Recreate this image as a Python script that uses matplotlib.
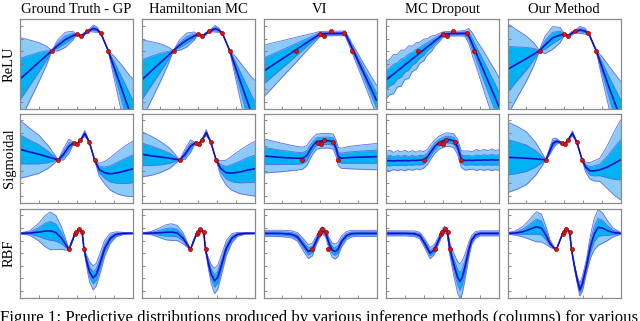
import numpy as np
import matplotlib.pyplot as plt

plt.rcParams['font.family'] = ['Liberation Serif', 'DejaVu Serif']

methods = ["Ground Truth - GP", "Hamiltonian MC", "VI", "MC Dropout", "Our Method"]
activations = ["ReLU", "Sigmoidal", "RBF"]

# training points, one set per row
relu_pts_x = [1.7, 3.0, 3.22, 3.57, 4.3, 4.68]
relu_pts_y = [4.05, 5.33, 5.22, 5.57, 5.4, 4.05]
sig_pts_x = [2.03, 2.87, 3.03, 3.21, 3.68, 3.96]
sig_pts_y = [2.87, 4.24, 4.13, 4.45, 4.29, 2.87]
rbf_pts_x = [2.6, 2.93, 2.98, 3.12, 3.3, 3.4]
rbf_pts_y = [3.3, 4.55, 4.65, 4.92, 4.7, 3.3]

# ---- ReLU row ----
relu_gp_x = [0, 0.5, 1.0, 1.4, 1.7, 2.0, 2.4, 2.8, 3.0, 3.22, 3.4, 3.57, 3.9, 4.1, 4.3, 4.68, 5.0, 5.4, 5.8, 6.0]
relu_gp_mean = [1.78, 2.45, 3.12, 3.64, 4.05, 4.45, 4.9, 5.22, 5.33, 5.22, 5.35, 5.57, 5.8, 5.7, 5.4, 4.05, 2.7, 1.0, -0.7, -1.6]
relu_gp_sd = [1.65, 1.22, 0.78, 0.38, 0.0, 0.22, 0.3, 0.18, 0.0, 0.0, 0.06, 0.0, 0.14, 0.1, 0.0, 0.0, 0.45, 0.95, 1.4, 1.7]

relu_hmc_x = relu_gp_x
relu_hmc_mean = [1.7, 2.4, 3.08, 3.62, 4.05, 4.45, 4.88, 5.2, 5.33, 5.22, 5.36, 5.57, 5.78, 5.68, 5.4, 4.05, 2.68, 0.95, -0.75, -1.65]
relu_hmc_sd = [1.6, 1.18, 0.75, 0.36, 0.0, 0.2, 0.28, 0.16, 0.0, 0.0, 0.06, 0.0, 0.13, 0.09, 0.0, 0.0, 0.44, 0.92, 1.38, 1.68]

relu_vi_x = [0, 0.5, 1.0, 1.5, 2.0, 2.5, 3.0, 3.5, 4.0, 4.34, 4.7, 5.0, 5.5, 6.0]
relu_vi_mean = [2.41, 2.9, 3.39, 3.88, 4.38, 4.87, 5.36, 5.4, 5.41, 5.41, 4.25, 3.3, 1.7, 0.1]
relu_vi_sd = [1.03, 0.88, 0.72, 0.57, 0.41, 0.25, 0.1, 0.09, 0.09, 0.1, 0.18, 0.27, 0.42, 0.6]

grid31 = [0.0, 0.2, 0.4, 0.6, 0.8, 1.0, 1.2, 1.4, 1.6, 1.8, 2.0, 2.2, 2.4, 2.6, 2.8, 3.0,
          3.2, 3.4, 3.6, 3.8, 4.0, 4.2, 4.4, 4.6, 4.8, 5.0, 5.2, 5.4, 5.6, 5.8, 6.0]

relu_do_x = grid31
relu_do_mean = [1.7, 1.95, 2.17, 2.43, 2.65, 2.91, 3.13, 3.39, 3.61, 3.87, 4.09, 4.35, 4.57, 4.83, 5.05, 5.3,
                5.36, 5.38, 5.4, 5.4, 5.41, 5.41, 5.2, 4.5, 3.8, 3.1, 2.4, 1.7, 1.0, 0.3, -0.4]
relu_do_sd = [0.75, 0.7, 0.78, 0.64, 0.72, 0.58, 0.65, 0.5, 0.53, 0.42, 0.43, 0.32, 0.31, 0.21, 0.17, 0.11,
              0.1, 0.09, 0.1, 0.09, 0.1, 0.12, 0.3, 0.46, 0.54, 0.66, 0.78, 0.88, 0.97, 1.08, 1.15]

relu_our_x = [0, 0.5, 1.0, 1.4, 1.69, 2.0, 2.4, 2.8, 3.02, 3.22, 3.4, 3.58, 3.85, 4.1, 4.32, 4.71, 5.0, 5.4, 5.8, 6.0]
relu_our_mean = [2.55, 2.98, 3.4, 3.76, 4.03, 4.5, 5.05, 5.28, 5.33, 5.22, 5.4, 5.57, 5.68, 5.6, 5.38, 4.03, 2.8, 1.1, -0.5, -1.3]
relu_our_sd = [1.82, 1.35, 0.9, 0.45, 0.02, 0.35, 0.45, 0.3, 0.02, 0.03, 0.08, 0.04, 0.14, 0.12, 0.03, 0.02, 0.4, 0.85, 1.25, 1.45]

# ---- Sigmoidal row ----
sig_gp_x = [0, 0.5, 1.0, 1.5, 2.03, 2.3, 2.6, 2.87, 3.03, 3.21, 3.44, 3.68, 3.96, 4.2, 4.5, 4.8, 5.2, 5.6, 6.0]
sig_gp_mean = [3.71, 3.5, 3.32, 3.1, 2.87, 3.3, 3.95, 4.24, 4.13, 4.45, 4.97, 4.29, 2.87, 2.1, 1.85, 1.76, 1.85, 2.0, 2.16]
sig_gp_sd = [1.15, 0.95, 0.76, 0.45, 0.0, 0.22, 0.28, 0.0, 0.0, 0.0, 0.12, 0.0, 0.0, 0.25, 0.45, 0.65, 0.85, 1.0, 1.1]

sig_hmc_x = sig_gp_x
sig_hmc_mean = [3.32, 3.2, 3.1, 3.0, 2.87, 3.3, 3.95, 4.24, 4.13, 4.45, 5.03, 4.29, 2.87, 2.2, 1.85, 1.82, 1.9, 2.05, 2.16]
sig_hmc_sd = [0.9, 0.78, 0.62, 0.4, 0.0, 0.2, 0.25, 0.0, 0.0, 0.0, 0.12, 0.0, 0.0, 0.3, 0.5, 0.68, 0.85, 0.98, 1.08]

sig_vi_x = [0, 0.5, 1.0, 1.5, 1.85, 2.06, 2.3, 2.47, 2.65, 2.82, 3.1, 3.44, 3.7, 3.85, 3.97, 4.14, 4.5, 5.0, 5.5, 6.0]
sig_vi_mean = [3.18, 3.12, 3.06, 3.02, 3.0, 3.0, 3.2, 3.66, 4.05, 4.32, 4.38, 4.39, 4.32, 3.8, 3.13, 3.0, 3.05, 3.08, 3.1, 3.13]
sig_vi_sd = [0.68, 0.62, 0.56, 0.5, 0.46, 0.44, 0.4, 0.36, 0.32, 0.3, 0.29, 0.29, 0.3, 0.32, 0.36, 0.4, 0.44, 0.47, 0.5, 0.52]

sig_do_x = grid31
sig_do_mean = [2.79, 2.81, 2.78, 2.81, 2.8, 2.82, 2.8, 2.83, 2.82, 2.85, 2.87, 3.1, 3.55, 3.95, 4.22, 4.36,
               4.48, 4.47, 4.38, 3.9, 2.92, 2.82, 2.84, 2.82, 2.86, 2.84, 2.87, 2.85, 2.88, 2.86, 2.87]
sig_do_sd = [0.37, 0.42, 0.34, 0.4, 0.35, 0.41, 0.34, 0.39, 0.33, 0.38, 0.33, 0.3, 0.28, 0.27, 0.26, 0.26,
             0.27, 0.26, 0.28, 0.3, 0.33, 0.38, 0.37, 0.34, 0.42, 0.36, 0.42, 0.37, 0.43, 0.38, 0.41]

sig_our_x = [0, 0.5, 1.0, 1.5, 2.04, 2.25, 2.42, 2.6, 2.87, 3.03, 3.21, 3.45, 3.68, 3.96, 4.15, 4.37, 4.6, 4.9, 5.3, 5.7, 6.0]
sig_our_mean = [3.08, 3.04, 3.0, 2.95, 2.87, 3.6, 4.18, 4.35, 4.24, 4.13, 4.45, 4.97, 4.29, 2.87, 2.3, 2.0, 2.0, 2.08, 2.3, 2.62, 2.87]
sig_our_sd = [1.4, 1.25, 1.05, 0.65, 0.0, 0.15, 0.2, 0.12, 0.0, 0.0, 0.0, 0.1, 0.0, 0.0, 0.2, 0.32, 0.4, 0.46, 0.85, 1.3, 1.58]

# ---- RBF row ----
rbf_gp_x = [0, 0.5, 1.0, 1.3, 1.6, 1.9, 2.2, 2.4, 2.6, 2.75, 2.93, 3.1, 3.3, 3.4, 3.55, 3.7, 3.88, 4.05, 4.25, 4.5, 4.8, 5.1, 5.5, 6.0]
rbf_gp_mean = [4.58, 4.6, 4.68, 4.75, 4.78, 4.65, 4.2, 3.75, 3.3, 3.9, 4.58, 4.9, 4.7, 3.3, 2.3, 1.5, 1.05, 1.3, 2.2, 3.4, 4.2, 4.5, 4.58, 4.58]
rbf_gp_sd = [0.02, 0.08, 0.35, 0.6, 0.75, 0.68, 0.45, 0.25, 0.0, 0.05, 0.0, 0.02, 0.0, 0.0, 0.25, 0.4, 0.48, 0.45, 0.4, 0.32, 0.2, 0.1, 0.04, 0.02]

rbf_hmc_x = rbf_gp_x
rbf_hmc_mean = [4.58, 4.6, 4.63, 4.66, 4.68, 4.6, 4.2, 3.75, 3.3, 3.9, 4.58, 4.9, 4.7, 3.3, 2.2, 1.35, 0.8, 1.1, 2.1, 3.4, 4.2, 4.5, 4.58, 4.58]
rbf_hmc_sd = [0.02, 0.06, 0.2, 0.3, 0.33, 0.3, 0.22, 0.12, 0.0, 0.04, 0.0, 0.02, 0.0, 0.0, 0.22, 0.38, 0.5, 0.48, 0.4, 0.3, 0.18, 0.08, 0.03, 0.02]

rbf_vi_x = [0, 0.5, 1.0, 1.5, 1.8, 2.1, 2.38, 2.6, 2.8, 3.0, 3.12, 3.3, 3.5, 3.65, 3.8, 3.95, 4.14, 4.4, 4.67, 5.0, 5.5, 6.0]
rbf_vi_mean = [4.58, 4.58, 4.57, 4.5, 4.3, 3.7, 3.13, 3.3, 4.0, 4.6, 4.82, 4.6, 3.7, 3.25, 3.13, 3.3, 3.92, 4.4, 4.56, 4.58, 4.58, 4.58]
rbf_vi_sd = [0.12, 0.12, 0.13, 0.14, 0.17, 0.24, 0.28, 0.25, 0.18, 0.15, 0.14, 0.16, 0.24, 0.28, 0.3, 0.28, 0.22, 0.16, 0.13, 0.12, 0.12, 0.12]

rbf_do_x = [0, 0.5, 1.0, 1.5, 1.8, 2.05, 2.34, 2.57, 2.8, 2.96, 3.1, 3.25, 3.4, 3.6, 3.8, 3.93, 4.05, 4.2, 4.4, 4.55, 4.75, 5.0, 5.5, 6.0]
rbf_do_mean = [4.58, 4.58, 4.58, 4.55, 4.4, 3.8, 3.0, 3.3, 4.05, 4.58, 4.89, 4.75, 3.26, 2.1, 1.1, 0.76, 1.1, 1.95, 3.3, 4.05, 4.45, 4.58, 4.58, 4.58]
rbf_do_sd = [0.1, 0.1, 0.1, 0.11, 0.13, 0.18, 0.22, 0.2, 0.14, 0.12, 0.12, 0.14, 0.25, 0.45, 0.62, 0.7, 0.65, 0.5, 0.3, 0.18, 0.13, 0.1, 0.1, 0.1]

rbf_our_x = [0, 0.4, 0.8, 1.1, 1.35, 1.55, 1.8, 2.05, 2.25, 2.45, 2.6, 2.93, 3.12, 3.3, 3.4, 3.55, 3.7, 3.84, 3.98, 4.19, 4.4, 4.6, 4.81, 5.05, 5.3, 5.6, 6.0]
rbf_our_mean = [4.58, 4.6, 4.7, 4.85, 5.0, 5.1, 5.0, 4.4, 3.79, 3.45, 3.3, 4.58, 4.97, 4.7, 3.3, 2.0, 0.9, 0.1, 0.6, 1.95, 3.5, 4.5, 5.05, 5.0, 4.8, 4.65, 4.58]
rbf_our_sd = [0.03, 0.08, 0.2, 0.35, 0.5, 0.6, 0.55, 0.35, 0.15, 0.05, 0.0, 0.0, 0.0, 0.0, 0.0, 0.08, 0.15, 0.25, 0.3, 0.28, 0.45, 0.62, 0.72, 0.6, 0.4, 0.18, 0.04]

panels = [
    [(relu_gp_x, relu_gp_mean, relu_gp_sd), (relu_hmc_x, relu_hmc_mean, relu_hmc_sd),
     (relu_vi_x, relu_vi_mean, relu_vi_sd), (relu_do_x, relu_do_mean, relu_do_sd),
     (relu_our_x, relu_our_mean, relu_our_sd)],
    [(sig_gp_x, sig_gp_mean, sig_gp_sd), (sig_hmc_x, sig_hmc_mean, sig_hmc_sd),
     (sig_vi_x, sig_vi_mean, sig_vi_sd), (sig_do_x, sig_do_mean, sig_do_sd),
     (sig_our_x, sig_our_mean, sig_our_sd)],
    [(rbf_gp_x, rbf_gp_mean, rbf_gp_sd), (rbf_hmc_x, rbf_hmc_mean, rbf_hmc_sd),
     (rbf_vi_x, rbf_vi_mean, rbf_vi_sd), (rbf_do_x, rbf_do_mean, rbf_do_sd),
     (rbf_our_x, rbf_our_mean, rbf_our_sd)],
]
points = [(relu_pts_x, relu_pts_y), (sig_pts_x, sig_pts_y), (rbf_pts_x, rbf_pts_y)]

outer_col = '#8ccbf7'
inner_col = '#00b2f2'
edge_col = '#5b6cf0'
mean_col = '#1010cc'

W, H = 640, 321
fig = plt.figure(figsize=(W / 100, H / 100), dpi=100)

col_left = [20, 141.5, 263.5, 386, 507.5]
row_top = [19, 113.5, 208.5]
pw, ph = 113, 89.5

for r in range(3):
    for c in range(5):
        x0 = col_left[c] / W
        y0 = 1 - (row_top[r] + ph) / H
        ax = fig.add_axes([x0, y0, pw / W, ph / H])
        x, m, s = [np.array(a, dtype=float) for a in panels[r][c]]
        ax.fill_between(x, m - 2 * s, m + 2 * s, color=outer_col, lw=0)
        ax.fill_between(x, m - s, m + s, color=inner_col, lw=0)
        for k in (-2, -1, 1, 2):
            ax.plot(x, m + k * s, color=edge_col, lw=0.6)
        ax.plot(x, m, color=mean_col, lw=1.2)
        px, py = points[r]
        ax.scatter(px, py, s=9, color='#e01010', edgecolor='#7a0000', linewidth=0.4, zorder=5)
        ax.set_xlim(0, 6)
        ax.set_ylim(-0.55, 6.55)
        ax.set_xticks(range(7))
        ax.set_yticks(range(7))
        ax.tick_params(direction='in', length=2, width=0.6, color='#777777',
                       labelbottom=False, labelleft=False)
        for sp in ax.spines.values():
            sp.set_color('#8a8a8a')
            sp.set_linewidth(0.9)
        if r == 0:
            ax.set_title(methods[c], fontsize=10.5, pad=4)
        if c == 0:
            ax.set_ylabel(activations[r], fontsize=10.5, labelpad=3)

fig.text(0.0, -0.004, "Figure 1: Predictive distributions produced by various inference methods (columns) for various",
         fontsize=12.1, ha='left', va='baseline')

fig.savefig('out.png', dpi=100)
